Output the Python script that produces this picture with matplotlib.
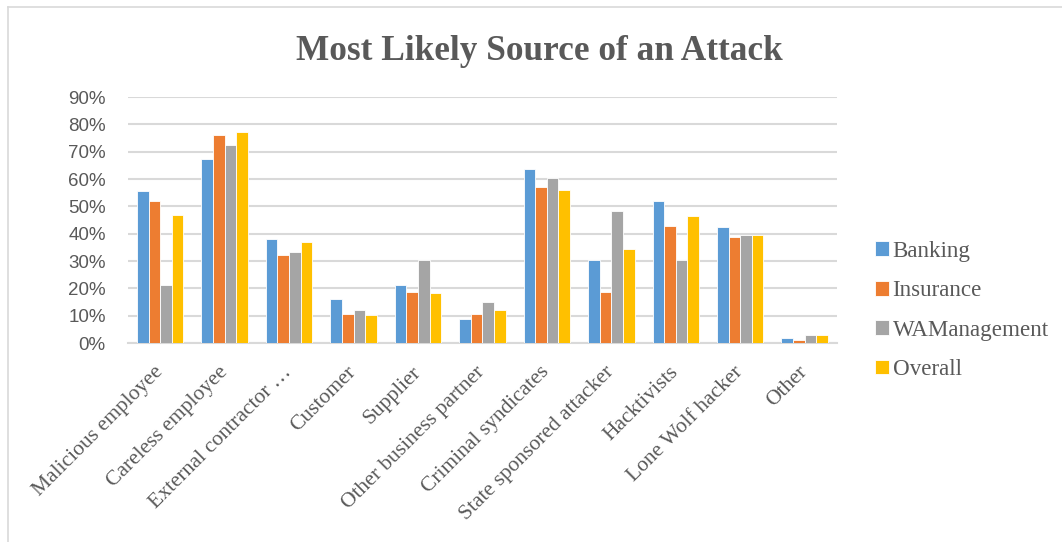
import numpy as np
import matplotlib
matplotlib.use("Agg")
import matplotlib.pyplot as plt
from matplotlib.lines import Line2D

CATEGORIES = [
    "Malicious employee", "Careless employee", "External contractor \u2026",
    "Customer", "Supplier", "Other business partner", "Criminal syndicates",
    "State sponsored attacker", "Hacktivists", "Lone Wolf hacker", "Other",
]
BANKING = [55.6, 67.4, 38.0, 16.2, 21.1, 8.8, 63.7, 30.5, 51.8, 42.4, 1.8]
INSURANCE = [52.0, 76.0, 32.1, 10.6, 18.8, 10.6, 57.2, 18.8, 42.7, 38.7, 1.2]
WAMANAGEMENT = [21.1, 72.6, 33.3, 12.1, 30.4, 15.2, 60.5, 48.4, 30.4, 39.4, 2.9]
OVERALL = [46.7, 77.1, 37.1, 10.4, 18.5, 12.2, 56.1, 34.3, 46.3, 39.4, 3.0]

SERIES = [
    ("Banking", BANKING, "#5B9BD5"),
    ("Insurance", INSURANCE, "#ED7D31"),
    ("WAManagement", WAMANAGEMENT, "#A5A5A5"),
    ("Overall", OVERALL, "#FFC000"),
]

TEXT = "#595959"
GRID = "#D9D9D9"
SERIF = ["Liberation Serif", "DejaVu Serif"]

fig = plt.figure(figsize=(10.62, 5.42), dpi=100)
ax = fig.add_axes([0.1205, 0.367, 0.6675, 0.454])

x = np.arange(len(CATEGORIES))
step = 0.18
for i, (name, vals, color) in enumerate(SERIES):
    ax.bar(x + (i - 1.5) * step, np.array(vals) / 100, width=step,
           color=color, edgecolor="white", linewidth=0.6, label=name, zorder=3)

ax.set_xlim(-0.5, len(CATEGORIES) - 0.5)
ax.set_ylim(0, 0.9)
ax.set_yticks(np.arange(0, 0.91, 0.1))
ax.set_yticklabels([f"{int(round(v * 100))}%" for v in np.arange(0, 0.91, 0.1)],
                   family=["Liberation Sans", "DejaVu Sans"], fontsize=13.5,
                   color=TEXT)
ax.yaxis.grid(True, color=GRID, linewidth=1.5, zorder=0)
ax.tick_params(axis="y", length=0, pad=16)
ax.tick_params(axis="x", length=0, pad=19)

ax.set_xticks(x)
ax.set_xticklabels(CATEGORIES, rotation=45, ha="right", va="center",
                   rotation_mode="anchor", family=SERIF, fontsize=15.5,
                   color=TEXT)

for side in ("top", "right", "left"):
    ax.spines[side].set_visible(False)
ax.spines["bottom"].set_color(GRID)
ax.spines["bottom"].set_linewidth(1.5)

fig.text(0.508, 0.905, "Most Likely Source of an Attack", ha="center",
         va="center", family=SERIF, fontsize=25.4, fontweight="bold", color=TEXT)

leg = ax.legend(loc="center left", bbox_to_anchor=(1.025, 0.132), frameon=False,
                prop={"family": SERIF, "size": 16.6}, handlelength=0.6,
                handleheight=0.6, handletextpad=0.15, labelspacing=0.8)
for t in leg.get_texts():
    t.set_color(TEXT)

# chart frame (only top and left edges fall inside the image)
fig.add_artist(Line2D([8 / 1062, 1.0], [1 - 7 / 542, 1 - 7 / 542],
                      transform=fig.transFigure, color=GRID, linewidth=1.2))
fig.add_artist(Line2D([8 / 1062, 8 / 1062], [0.0, 1 - 7 / 542],
                      transform=fig.transFigure, color=GRID, linewidth=1.2))

fig.savefig("out.png", dpi=100)
plt.close(fig)
